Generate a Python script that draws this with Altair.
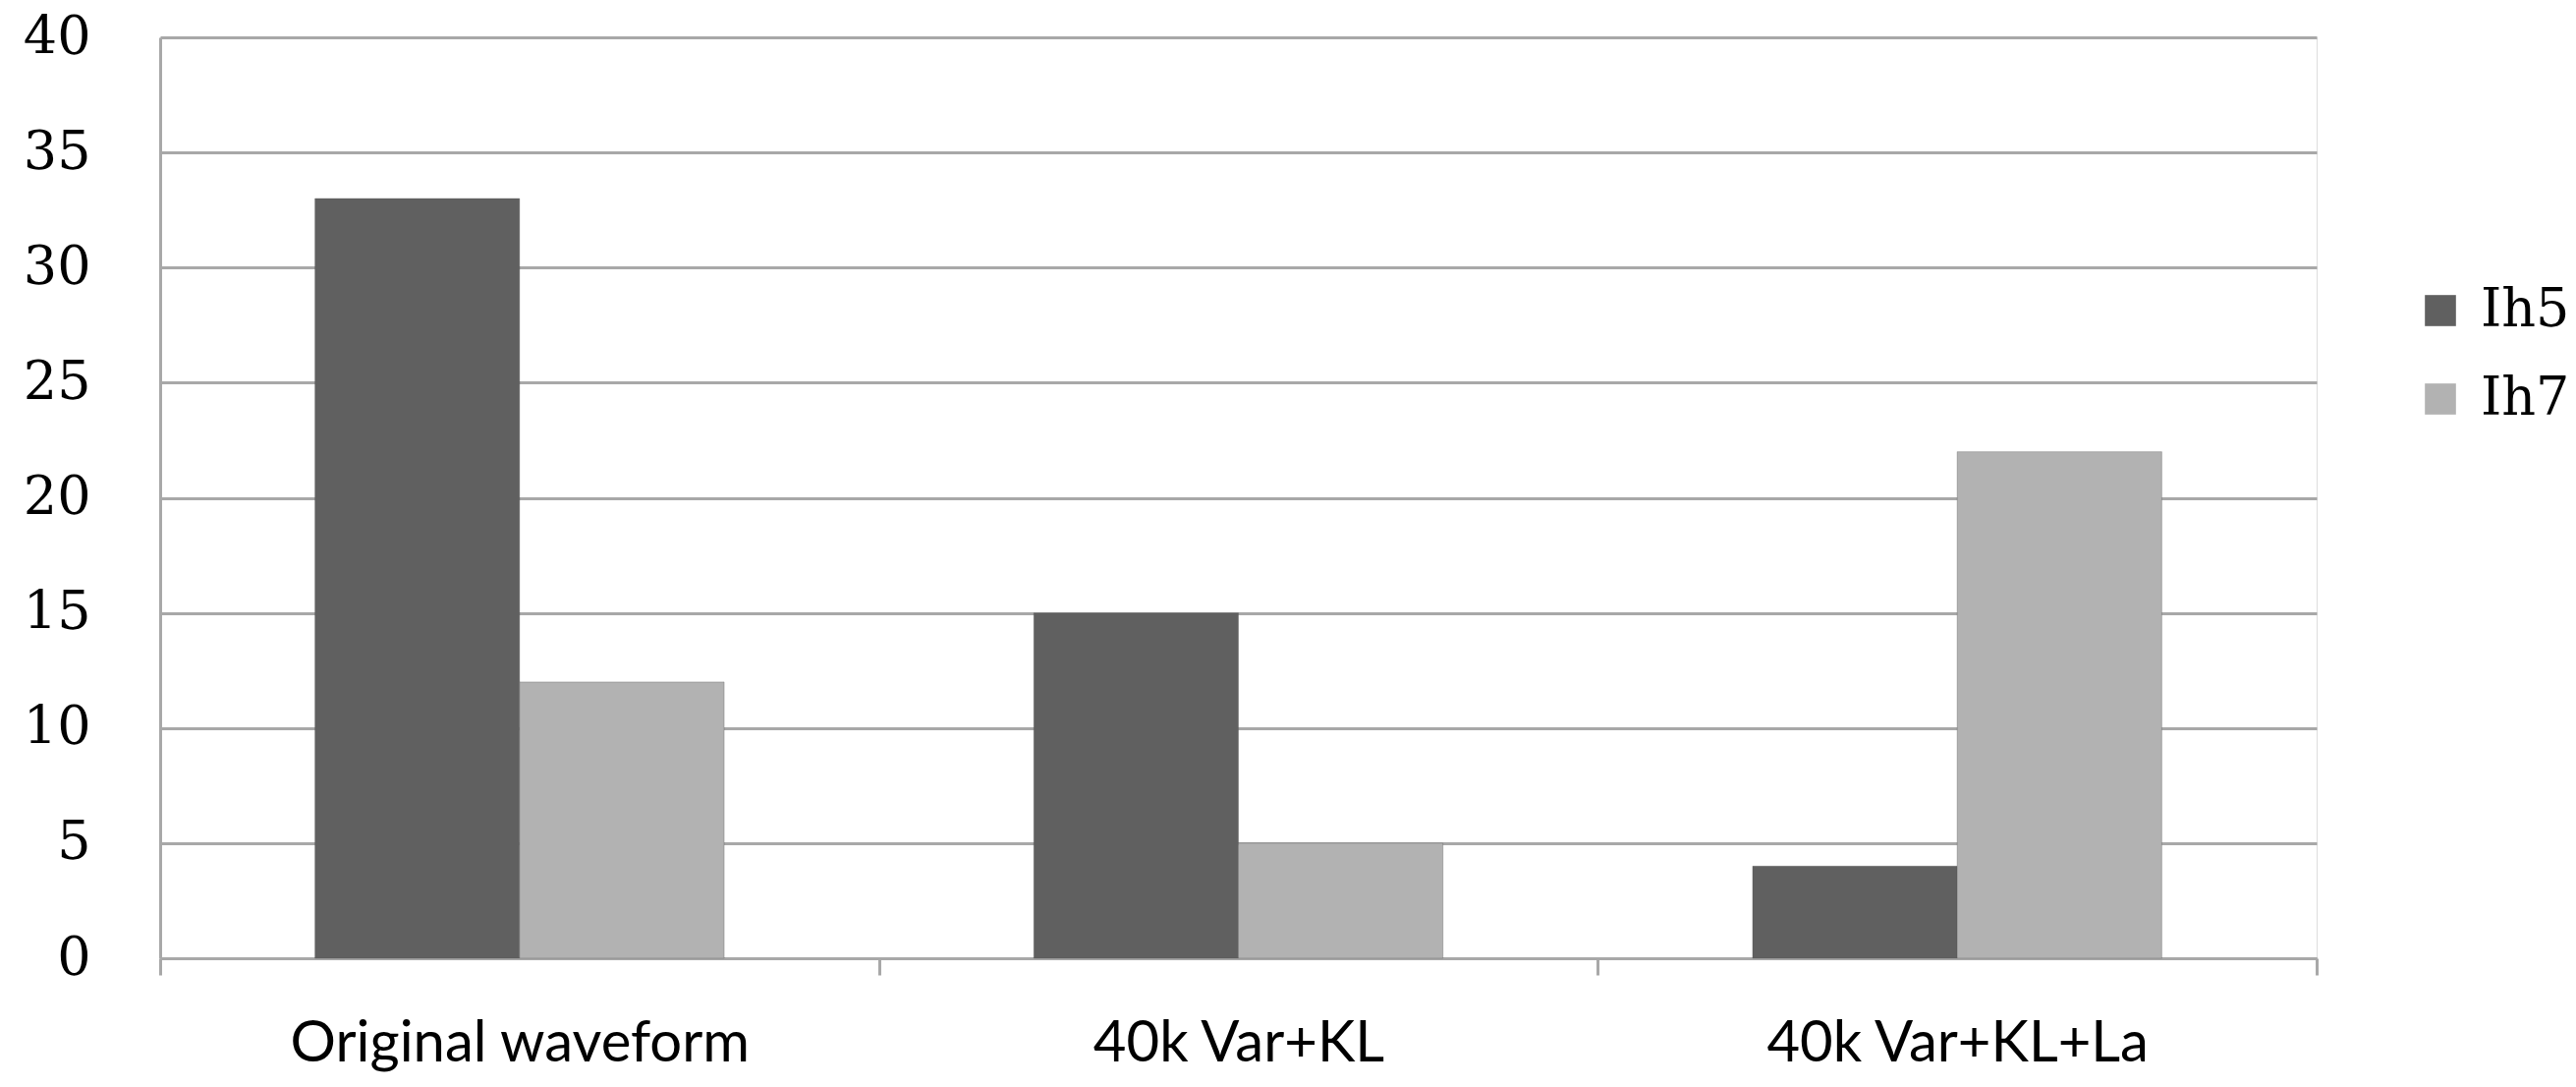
import altair as alt
import pandas as pd

categories = ["Original waveform", "40k Var+KL", "40k Var+KL+La"]
series = ["Ih5", "Ih7"]
ih5 = [33, 15, 4]
ih7 = [12, 5, 22]
colors = ["#606060", "#b2b2b2"]

rows = []
for c, a, b in zip(categories, ih5, ih7):
    rows.append({"category": c, "series": "Ih5", "value": a})
    rows.append({"category": c, "series": "Ih7", "value": b})
df = pd.DataFrame(rows)

grid = "#a8a8a8"

chart = alt.Chart(df).mark_bar(stroke="#555555", strokeWidth=1, strokeOpacity=0.35).encode(
    x=alt.X("category:N", sort=categories, title=None,
            scale=alt.Scale(paddingInner=0, paddingOuter=0),
            axis=alt.Axis(labelAngle=0, labelFont="Lato", labelFontSize=58, labelColor="#000000",
                          labelLimit=0, labelPadding=41, tickBand="extent", tickSize=17, tickWidth=3,
                          tickColor=grid, domainColor=grid, domainWidth=3, grid=False)),
    xOffset=alt.XOffset("series:N", sort=series,
                        scale=alt.Scale(paddingInner=0, paddingOuter=0.757)),
    y=alt.Y("value:Q", title=None,
            scale=alt.Scale(domain=[0, 40], nice=False),
            axis=alt.Axis(values=[0, 5, 10, 15, 20, 25, 30, 35, 40], labelFont="DejaVu Serif",
                          labelFontSize=54, labelColor="#000000", labelPadding=71,
                          ticks=False, domainColor=grid, domainWidth=3,
                          gridColor=grid, gridWidth=3)),
    color=alt.Color("series:N", sort=series, title=None,
                    scale=alt.Scale(domain=series, range=colors),
                    legend=alt.Legend(orient="none", legendX=2294, legendY=251,
                                      symbolType="square", symbolSize=1000, symbolStrokeWidth=0,
                                      labelFont="DejaVu Serif", labelFontSize=54,
                                      labelColor="#000000", labelOffset=14, rowPadding=36,
                                      padding=0)),
).properties(
    width=2195, height=937,
    autosize=alt.AutoSizeParams(type="none"),
    padding={"left": 155, "top": 30, "right": 256, "bottom": 123},
).configure_view(stroke=None).configure(background="white")

chart.save("out.html", embed_options={"renderer": "svg", "actions": False})
